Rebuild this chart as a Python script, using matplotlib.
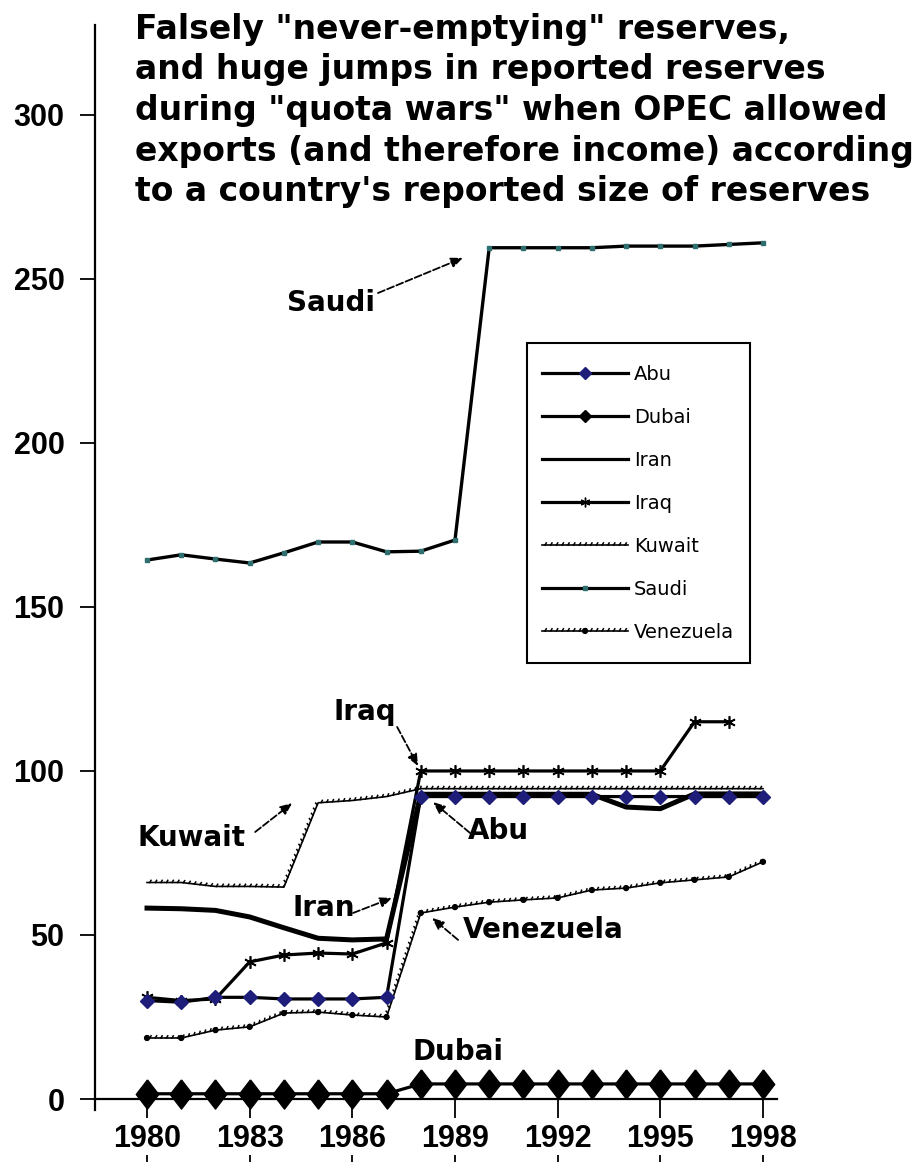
import matplotlib
matplotlib.use("Agg")
import matplotlib.pyplot as plt
from matplotlib import patheffects as pe
from matplotlib.lines import Line2D
from matplotlib.patches import Rectangle

# Reported proven oil reserves, billion barrels
years = list(range(1980, 1999))
abu = [30.0, 29.5, 31.0, 31.0, 30.5, 30.5, 30.5, 31.0,
       92.2, 92.2, 92.2, 92.2, 92.2, 92.2, 92.2, 92.2, 92.2, 92.2, 92.2]
dubai = [1.6, 1.6, 1.6, 1.6, 1.6, 1.6, 1.6, 1.6,
         4.6, 4.6, 4.6, 4.6, 4.6, 4.6, 4.6, 4.6, 4.6, 4.6, 4.6]
iran = [58.2, 58.0, 57.5, 55.5, 52.2, 49.0, 48.5, 48.8,
        92.9, 92.9, 92.9, 92.9, 92.9, 92.9, 89.0, 88.5, 93.0, 93.0, 93.0]
iraq_years = list(range(1980, 1998))
iraq = [31.0, 30.0, 30.5, 41.8, 43.9, 44.5, 44.2, 47.6,
        100.0, 100.0, 100.0, 100.0, 100.0, 100.0, 100.0, 100.0, 115.0, 115.0]
kuwait = [66.0, 66.0, 64.8, 64.8, 64.6, 90.3, 91.0, 92.2,
          94.6, 94.6, 94.6, 94.6, 94.6, 94.6, 94.6, 94.6, 94.6, 94.6, 94.6]
saudi = [164.3, 165.9, 164.6, 163.4, 166.5, 169.8, 169.8, 166.8, 167.0, 170.4,
         259.5, 259.5, 259.5, 259.5, 260.0, 260.0, 260.0, 260.5, 261.0]
venezuela = [18.6, 18.6, 21.0, 22.0, 26.2, 26.5, 25.6, 25.0,
             56.7, 58.5, 60.0, 60.7, 61.3, 63.7, 64.3, 65.9, 66.8, 67.7, 72.3]

x_ticks = [1980, 1983, 1986, 1989, 1992, 1995, 1998]
y_ticks = [0, 50, 100, 150, 200, 250, 300]

title_lines = [
    'Falsely "never-emptying" reserves,',
    'and huge jumps in reported reserves',
    'during "quota wars" when OPEC allowed',
    'exports (and therefore income) according',
    "to a country's reported size of reserves",
]

# label text, label position, arrow tail, arrow head (data units)
callouts = [
    ("Saudi", (1985.38, 242.7), (1986.75, 245.7), (1989.23, 256.4)),
    ("Iraq", (1986.37, 118.0), (1987.31, 113.4), (1987.92, 101.5)),
    ("Kuwait", (1981.29, 79.6), (1983.16, 81.4), (1984.24, 90.2)),
    ("Abu", (1990.26, 81.7), (1989.44, 81.1), (1988.36, 90.5)),
    ("Iran", (1985.17, 58.2), (1986.02, 56.7), (1987.16, 61.3)),
    ("Venezuela", (1991.57, 51.5), (1989.09, 48.5), (1988.33, 55.2)),
    ("Dubai", (1989.09, 14.3), None, None),
]

W, H = 922, 1162
plt.rcParams["font.family"] = ["Liberation Sans", "DejaVu Sans"]
fig = plt.figure(figsize=(W / 100, H / 100), dpi=100)


def fx(px):
    return px / W


def fy(py):
    return 1 - py / H


ax = fig.add_axes([fx(95), fy(1110), fx(777) - fx(95), fy(25) - fy(1110)])
ax.set_xlim(1978.48, 1998.41)
ax.set_ylim(-3.35, 327.4)

wavy = [pe.withTickedStroke(spacing=4, angle=60, length=0.45, linewidth=1.1)]
tall_diamond = [(0, 1), (0.77, 0), (0, -1), (-0.77, 0), (0, 1)]

ax.plot(years, kuwait, color="black", lw=1.2, path_effects=wavy, zorder=3)
ax.plot(years, venezuela, color="black", lw=1.2, path_effects=wavy,
        marker="o", ms=3.5, mfc="black", mec="black", zorder=3)
ax.plot(years, iran, color="black", lw=3.6, zorder=4)
ax.plot(iraq_years, iraq, color="black", lw=2.3, marker=(6, 2, 0), ms=9,
        mec="black", mew=1.2, zorder=4)
ax.plot(years, abu, color="black", lw=2.3, marker="D", ms=7.5,
        mfc="#1e1e7a", mec="#1e1e7a", zorder=5)
ax.plot(years, saudi, color="black", lw=2.4, marker="s", ms=3.5,
        mfc="#2f6f6f", mec="#2f6f6f", zorder=5)
ax.plot(years, dubai, color="black", lw=2.3, marker=tall_diamond, ms=21,
        mfc="black", mec="black", zorder=6, clip_on=False)

for s in ("top", "right"):
    ax.spines[s].set_visible(False)
ax.spines["bottom"].set_position(("data", 0))
ax.spines["bottom"].set_linewidth(1.6)
ax.spines["left"].set_linewidth(1.6)

ax.set_xticks(x_ticks)
ax.set_yticks(y_ticks)
ax.tick_params(axis="x", direction="out", length=14, width=1.3, pad=4,
               labelsize=22)
ax.tick_params(axis="y", direction="out", length=11, width=1.3, pad=11,
               labelsize=22)
for lbl in ax.get_xticklabels() + ax.get_yticklabels():
    lbl.set_fontweight("bold")

sec = ax.secondary_xaxis(-0.0415)
sec.set_xticks(x_ticks)
sec.tick_params(axis="x", direction="out", length=14, width=1.3,
                labelbottom=False)
for s in sec.spines.values():
    s.set_visible(False)

for label, txt_pos, tail, head in callouts:
    ax.text(txt_pos[0], txt_pos[1], label, ha="center", va="center",
            fontsize=20, fontweight="bold", fontfamily="DejaVu Sans", zorder=8)
    if head is not None:
        ax.annotate("", xy=head, xytext=tail,
                    arrowprops=dict(arrowstyle="-|>,head_length=0.7,head_width=0.3",
                                    lw=1.3, color="black", shrinkA=0, shrinkB=0,
                                    linestyle=(0, (4, 1.5))),
                    zorder=8)

for i, line in enumerate(title_lines):
    fig.text(fx(135), fy(39 + 40.5 * i), line, fontfamily="DejaVu Sans",
             fontweight="bold", fontsize=23.8, va="baseline", ha="left")

handles = [
    Line2D([], [], color="black", lw=2.3, marker="D", ms=6,
           mfc="#1e1e7a", mec="#1e1e7a"),
    Line2D([], [], color="black", lw=2.3, marker="D", ms=6,
           mfc="black", mec="black"),
    Line2D([], [], color="black", lw=2.3),
    Line2D([], [], color="black", lw=2.3, marker=(6, 2, 0), ms=7, mew=1.0),
    Line2D([], [], color="black", lw=1.2, path_effects=wavy),
    Line2D([], [], color="black", lw=2.3, marker="s", ms=3.5,
           mfc="#2f6f6f", mec="#2f6f6f"),
    Line2D([], [], color="black", lw=1.2, path_effects=wavy, marker="o",
           ms=3.5, mfc="black"),
]
names = ["Abu", "Dubai", "Iran", "Iraq", "Kuwait", "Saudi", "Venezuela"]
fig.legend(handles, names, loc="center", frameon=False,
           bbox_to_anchor=(fx(638), fy(503.5)),
           prop={"family": "DejaVu Sans", "size": 14},
           handlelength=4.4, handletextpad=0.3, labelspacing=1.23,
           borderpad=0, borderaxespad=0)
fig.patches.append(Rectangle((fx(527), fy(663)), fx(750) - fx(527),
                             fy(343) - fy(663), transform=fig.transFigure,
                             fill=False, lw=1.5, ec="black"))

fig.savefig("out.png", dpi=100)
